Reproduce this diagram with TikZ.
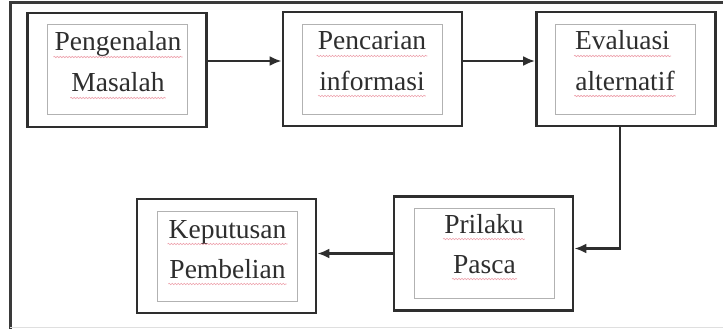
\documentclass[tikz,border=0pt]{standalone}
\usepackage{fontspec}
\setmainfont{Liberation Serif}
\usetikzlibrary{arrows.meta,decorations.pathmorphing}
\definecolor{ink}{HTML}{2E2E2E}
\definecolor{rulecol}{HTML}{3A3A3A}
\definecolor{spell}{HTML}{E0556A}
% a word with a red spell-check squiggle under it
\newcommand\wordsq[4]{%
  \node[word] (#1) at (#2,#3) {#4};
  \draw[squig] ([xshift=-1pt,yshift=-6pt]#1.base west) -- ([xshift=1pt,yshift=-6pt]#1.base east);}
\begin{document}
\begin{tikzpicture}[x=1pt,y=-1pt,
  outerbox/.style={draw=ink, line width=2.8pt, minimum width=179pt, minimum height=114pt, inner sep=0pt},
  innerbox/.style={draw=gray!60, line width=0.9pt, minimum width=140pt, minimum height=90pt, inner sep=0pt},
  word/.style={font=\fontsize{27.5}{33}\selectfont, text=ink, inner sep=0pt, anchor=base},
  squig/.style={draw=spell, opacity=0.55, line width=0.6pt, decorate,
                decoration={snake, segment length=3pt, amplitude=0.7pt}},
  flow/.style={draw=ink, line width=2.8pt, -{Latex[length=12pt,width=10pt]}}
]
\useasboundingbox (0,0) rectangle (723,329);
\fill[white] (0,0) rectangle (723,329);

% page frame
\draw[rulecol, line width=3pt] (10,329) -- (10,3) -- (723,3);
\draw[gray!25, line width=0.8pt] (10,327.5) -- (723,327.5);

% stage boxes
\node[outerbox] (b1) at (117,70) {};
\node[innerbox] (i1) at (117.5,69) {};
\node[outerbox] (b2) at (372.5,69) {};
\node[innerbox] (i2) at (372.5,69.5) {};
\node[outerbox] (b3) at (626,69) {};
\node[innerbox] (i3) at (625,69.5) {};
\node[outerbox] (b4) at (483.5,253.5) {};
\node[innerbox] (i4) at (484,253) {};
\node[outerbox] (b5) at (226.5,256) {};
\node[innerbox] (i5) at (227,256) {};

% labels
\wordsq{w1a}{118}{51}{Pengenalan}
\wordsq{w1b}{118}{92}{Masalah}
\wordsq{w2a}{372}{50}{Pencarian}
\wordsq{w2b}{372}{90}{informasi}
\wordsq{w3a}{622.5}{50}{Evaluasi}
\wordsq{w3b}{625}{90}{alternatif}
\wordsq{w4a}{484}{233}{Prilaku}
\wordsq{w4b}{484.5}{273}{Pasca}
\wordsq{w5a}{227.5}{238}{Keputusan}
\wordsq{w5b}{227.5}{278}{Pembelian}

% flow
\draw[flow] ([yshift=9pt]b1.east) -- ([yshift=9pt]b1.east -| b2.west);
\draw[flow] ([yshift=8pt]b2.east) -- ([yshift=8pt]b2.east -| b3.west);
\draw[flow] ([xshift=-6pt]b3.south) |- ([yshift=5pt]b4.east);
\draw[flow] (b4.west) -- (b4.west -| b5.east);
\end{tikzpicture}
\end{document}
